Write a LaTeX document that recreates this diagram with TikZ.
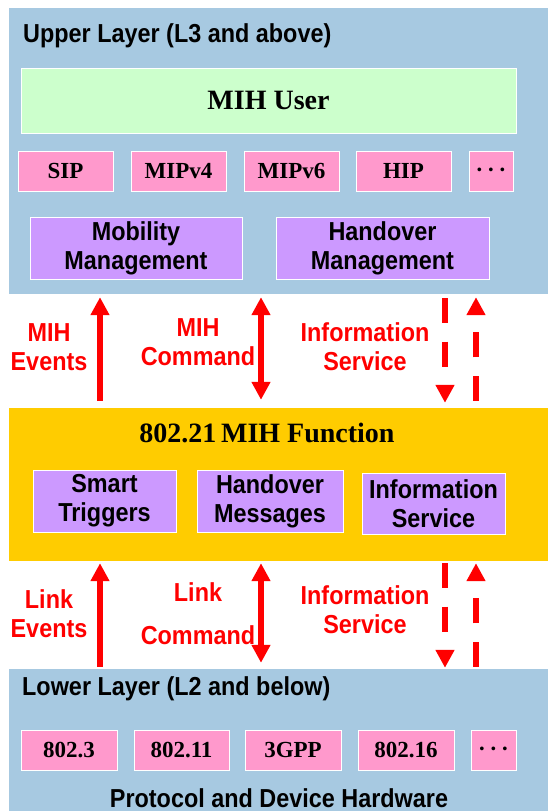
\documentclass[tikz,border=0pt]{standalone}
\usepackage{fontspec}
\setmainfont{Liberation Sans}[FakeStretch=0.9]
\newfontfamily\tnr{Liberation Serif}
\usetikzlibrary{arrows.meta}
\definecolor{layerblue}{HTML}{A7C9E1}
\definecolor{usergreen}{HTML}{CCFFCC}
\definecolor{protopink}{HTML}{FF99CC}
\definecolor{funcpurple}{HTML}{CC99FF}
\definecolor{mihyellow}{HTML}{FFCC00}
\definecolor{arrowred}{HTML}{FF0000}
\newcommand{\mydots}{\raisebox{-6pt}[0pt][0pt]{·\,·\,·}}
\begin{document}
\begin{tikzpicture}[x=1pt,y=-1pt,
  sansfont/.style={font=\bfseries\fontsize{26}{29}\selectfont},
  layer/.style={fill=#1, draw=none, inner sep=0pt, minimum width=541pt},
  title/.style={inner sep=0pt, anchor=base west, sansfont},
  box/.style={draw=white, line width=0.9pt, inner sep=0pt, align=center},
  serifbox/.style={box, fill=protopink, minimum height=40pt, font=\tnr\bfseries\fontsize{23}{27}\selectfont},
  funcbox/.style={box, fill=funcpurple, minimum height=62pt, sansfont},
  redlabel/.style={text=arrowred, align=center, inner sep=0pt, sansfont},
  sarrow/.style={draw=arrowred, line width=6pt, -{Triangle[width=18pt,length=18pt]}},
  darrow/.style={draw=arrowred, line width=6pt, {Triangle[width=18pt,length=18pt]}-{Triangle[width=18pt,length=18pt]}},
  dasharrow/.style={draw=arrowred, line width=6pt, dash pattern=on 25pt off 18.5pt, -{Triangle[width=18pt,length=18pt]}}
]
\useasboundingbox[fill=white] (0,0) rectangle (547,811);

% layers
\node[layer=layerblue, minimum height=286pt] (upper) at (279.5,151) {};
\node[layer=mihyellow, minimum height=153pt] (mihf) at (279.5,484.5) {};
\node[layer=layerblue, minimum height=146pt] (lower) at (279.5,742) {};

% upper layer content
\node[title] (uptitle) at (23,42) {Upper Layer (L3 and above)};
\node[box, fill=usergreen, minimum width=495pt, minimum height=65pt,
      font=\tnr\bfseries\fontsize{28}{32}\selectfont] (user) at (268.5,100.5) {MIH User};
\node[serifbox, minimum width=95pt] (sip) at (65.5,171) {SIP};
\node[serifbox, minimum width=95pt] (mip4) at (178.5,171) {MIPv4};
\node[serifbox, minimum width=95pt] (mip6) at (291.5,171) {MIPv6};
\node[serifbox, minimum width=95pt] (hip) at (403.5,171) {HIP};
\node[serifbox, minimum width=44pt] (udots) at (491,171) {\mydots};
\node[funcbox, minimum width=212pt] (mobm) at (136,248) {Mobility\\Management};
\node[funcbox, minimum width=213pt] (hom) at (382.5,248) {Handover\\Management};

% MIH function content
\node[inner sep=0pt, anchor=base, font=\tnr\bfseries\fontsize{28}{32}\selectfont] (ftitle) at (267,442) {802.21\,MIH Function};
\node[funcbox, minimum width=143pt] (smart) at (104.5,501) {Smart\\Triggers};
\node[funcbox, minimum width=146pt] (homsg) at (270,501) {Handover\\Messages};
\node[funcbox, minimum width=143pt, minimum height=61pt] (infos) at (433.5,503.5) {Information\\Service};

% lower layer content
\node[title] (lotitle) at (22,695) {Lower Layer (L2 and below)};
\node[serifbox, minimum width=96pt] (e3) at (69,750) {802.3};
\node[serifbox, minimum width=95pt] (e11) at (181.5,750) {802.11};
\node[serifbox, minimum width=96pt] (gpp) at (293,750) {3GPP};
\node[serifbox, minimum width=96pt] (e16) at (406,750) {802.16};
\node[serifbox, minimum width=45pt] (ldots) at (493.5,750) {\mydots};
\node[inner sep=0pt, anchor=base, sansfont] (hw) at (279,807) {Protocol and Device Hardware};

% arrow x positions
\coordinate (xev) at (100,0);
\coordinate (xcmd) at (261,0);
\coordinate (xdn) at (445,0);
\coordinate (xup) at (476,0);

% upper arrows
\draw[sarrow, shorten <=7pt, shorten >=3pt] (mihf.north -| xev) -- (upper.south -| xev);
\draw[darrow, shorten <=3pt, shorten >=8pt] (upper.south -| xcmd) -- (mihf.north -| xcmd);
\draw[dasharrow, shorten <=4pt, shorten >=5pt] (upper.south -| xdn) -- (mihf.north -| xdn);
\draw[dasharrow, shorten <=7pt, shorten >=3pt] (mihf.north -| xup) -- (upper.south -| xup);

% lower arrows
\draw[sarrow, shorten <=2pt, shorten >=2pt] (lower.north -| xev) -- (mihf.south -| xev);
\draw[darrow, shorten <=2pt, shorten >=6pt] (mihf.south -| xcmd) -- (lower.north -| xcmd);
\draw[dasharrow, shorten <=2pt, shorten >=1pt] (mihf.south -| xdn) -- (lower.north -| xdn);
\draw[dasharrow, shorten <=2pt, shorten >=2pt] (lower.north -| xup) -- (mihf.south -| xup);

% labels
\node[redlabel] (l1) at (49,347.5) {MIH\\Events};
\node[redlabel] (l2) at (198,342) {MIH\\Command};
\node[redlabel] (l3) at (365,346.5) {Information\\Service};
\node[redlabel] (l4) at (49,613.5) {Link\\Events};
\node[redlabel] (l5) at (198,613.5) {Link\\[14pt]Command};
\node[redlabel] (l6) at (365,610) {Information\\Service};
\end{tikzpicture}
\end{document}
